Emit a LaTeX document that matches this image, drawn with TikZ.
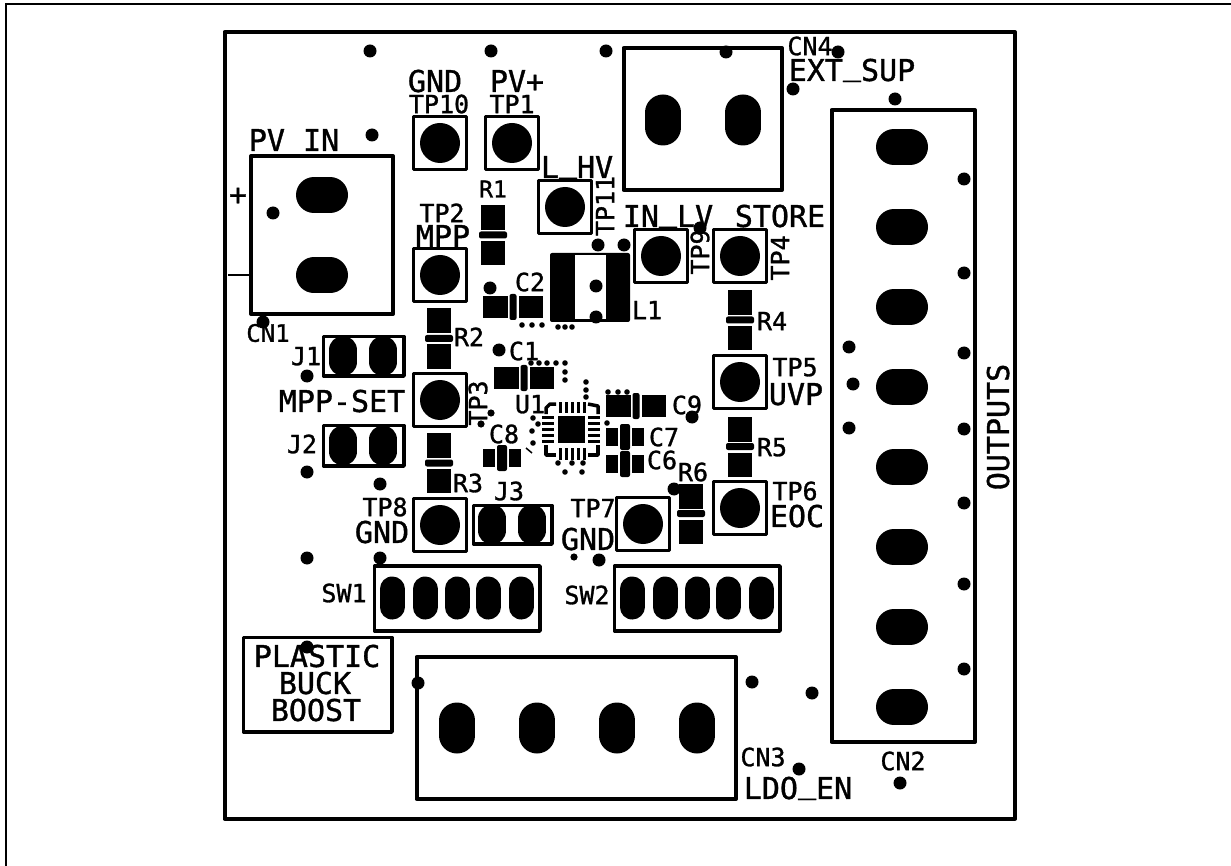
\documentclass[tikz,border=0pt]{standalone}
\usepackage{fontspec}
\newfontfamily\pcbfont[FakeBold=1.2]{DejaVu Sans Mono}
\newcounter{lblno}
\newcommand\us{\raisebox{.2em}{\_}}
\tikzset{
  board/.style={draw=black,line width=4pt,line join=round},
  part/.style={draw=black,line width=3.4pt,line join=round},
  slot/.style={line cap=round,draw=black},
  silk/.style={inner sep=0pt,outer sep=0pt,text=black,anchor=base}
}
% label: size, x, y, text ; rotated variant
\newcommand\lbl[4]{\stepcounter{lblno}\node[silk] (t\thelblno) at (#2,{#3+0.365*#1}) {\pcbfont\fontsize{#1}{#1}\selectfont #4};}
\newcommand\rlbl[4]{\stepcounter{lblno}\node[silk,rotate=90] (t\thelblno) at ({#2+0.365*#1},#3) {\pcbfont\fontsize{#1}{#1}\selectfont #4};}
\newcommand\tpad[2]{\draw[part] (#1-26.5,#2-26.5) rectangle (#1+26.5,#2+26.5); \fill (#1,#2) circle (20);}
\newcommand\hslot[2]{\draw[slot,line width=36pt] (#1-8,#2) -- (#1+8,#2);}
\newcommand\vslot[2]{\draw[slot,line width=36pt] (#1,#2-7.5) -- (#1,#2+7.5);}
\newcommand\swslot[2]{\draw[slot,line width=25pt] (#1,#2-9) -- (#1,#2+9);}
\newcommand\jslot[2]{\draw[slot,line width=28pt] (#1,#2-6) -- (#1,#2+6);}
\newcommand\resv[2]{\fill (#1-12,#2-30) rectangle (#1+12,#2-5); \fill (#1-12,#2+6) rectangle (#1+12,#2+30);
  \fill[rounded corners=2pt] (#1-14,#2-3.5) rectangle (#1+14,#2+3.5);}
\newcommand\capbig[2]{\fill (#1-30,#2-11) rectangle (#1-5,#2+11); \fill (#1+6,#2-11) rectangle (#1+30,#2+11);
  \fill[rounded corners=2pt] (#1-3.5,#2-13) rectangle (#1+3.5,#2+13);}
\newcommand\capsm[2]{\fill (#1-19,#2-9) rectangle (#1-7,#2+9); \fill (#1+7,#2-9) rectangle (#1+19,#2+9);
  \fill[rounded corners=2pt] (#1-5,#2-13) rectangle (#1+5,#2+13);}
\begin{document}
\begin{tikzpicture}[x=1pt,y=-1pt]
\useasboundingbox (0,0) rectangle (1231,866);
\fill[white] (0,0) rectangle (1231,866);
% page frame
\draw[line width=2pt] (6,866) -- (6,4.3) -- (1231,4.3);
% board outline
\draw[board] (224.5,32) rectangle (1015,818.5);
% connectors
\draw[board] (251,156) rectangle (393,314);
\hslot{322}{195} \hslot{322}{275.5}
\draw[board] (623.5,48) rectangle (782,190);
\vslot{663}{120} \vslot{743}{120}
\draw[board] (831.5,110) rectangle (975,742);
\foreach \yy in {147,227,307,387,467,547,627,707} {\hslot{902}{\yy}}
\draw[board] (416.5,657) rectangle (736,799);
\foreach \xx in {457,537,617,697} {\vslot{\xx}{728}}
% switches
\draw[part] (374.5,566) rectangle (540,631);
\foreach \xx in {392,425,457,488,521} {\swslot{\xx}{598}}
\draw[part] (614.5,566) rectangle (780,631);
\foreach \xx in {632,665,697,728,761} {\swslot{\xx}{598}}
% plastic box
\draw[part] (243.5,637.5) rectangle (392,732);
% jumpers
\draw[part] (323.5,336.5) rectangle (404,376);
\jslot{343}{356} \jslot{383}{356}
\draw[part] (323.5,425.5) rectangle (404,466);
\jslot{343}{445.5} \jslot{383}{445.5}
\draw[part] (473.5,505.5) rectangle (552,544);
\jslot{492}{524.5} \jslot{532}{524.5}
% test points
\tpad{440}{143} \tpad{512}{143} \tpad{565}{207} \tpad{440}{275}
\tpad{440}{400} \tpad{440}{525} \tpad{661}{256} \tpad{740}{256}
\tpad{740}{382} \tpad{740}{508} \tpad{643}{524}
% resistors
\resv{493}{235} \resv{439}{338.5} \resv{439}{463} \resv{740}{320} \resv{740}{446.5} \resv{691}{513.5}
% capacitors
\capbig{513}{307} \capbig{524}{378} \capbig{636}{406}
\capsm{625}{437} \capsm{625}{464} \capsm{502}{458}
% inductor
\fill[rounded corners=2pt] (550,253) rectangle (630,322);
\fill[white] (575,255) rectangle (606,319);
% U1
\fill (558,416) rectangle (585,443);
\foreach \pp in {0,1,2,3,4} {
  \fill ({560+\pp*6-1.5},402) rectangle ({560+\pp*6+1.5},413);
  \fill ({560+\pp*6-1.5},448) rectangle ({560+\pp*6+1.5},460);
  \fill (542,{417+\pp*6-1.5}) rectangle (554,{417+\pp*6+1.5});
  \fill (588,{417+\pp*6-1.5}) rectangle (600,{417+\pp*6+1.5});
}
\draw[line width=3.5pt,line join=round] (546,414) -- (546,408) -- (550,404) -- (556,404);
\draw[line width=3.5pt,line join=round] (598,414) -- (598,406) -- (588,404);
\draw[line width=3.5pt,line join=round] (546,445) -- (546,455) -- (556,455);
\draw[line width=3.5pt,line join=round] (598,445) -- (598,455) -- (588,455);
\draw[line width=1.5pt] (526,448) -- (532,453);
% vias
\foreach \xx/\yy in {370/51,491/51,606/51,372/135,726/52,838/52,793/89,895/99,964/179,964/273,964/353,
  849/347,853/384,849/428,964/429,964/503,964/584,964/669,812/693,900/783,799/769,752/682,
  273/213,263/322,307/376,307/472,380/484,307/558,380/558,307/647,418/683,599/560,
  598/245,624/245,596/286,596/317,490/288,499/350,674/489,692/417,700/228}
  {\fill (\xx,\yy) circle (6.5);}
\foreach \xx/\yy in {574/557,491/413,481/424} {\fill (\xx,\yy) circle (3.6);}
\foreach \xx/\yy in {522/325,532/325,542/325,558/327,565/327,572/327,
  531/363,539/363,547/363,556/363,565/363,565/372,565/380,
  586/382,586/390,586/397,608/392,618/392,627/392,607/423,
  533/418,538/424,532/431,533/443,
  558/463,572/463,583/463,565/472,582/472}
  {\fill (\xx,\yy) circle (2.8);}
% silk labels
\draw[line width=2pt] (228,275) -- (249,275);
\lbl{30}{238}{194}{+}
\lbl{30}{294}{140}{PV IN}
\lbl{30}{435}{81}{GND}
\lbl{30}{517}{81}{PV+}
\lbl{25}{439}{104}{TP10}
\lbl{25}{512}{104}{TP1}
\lbl{30}{577}{167}{L\us HV}
\rlbl{25}{605}{206}{TP11}
\lbl{23}{493}{189}{R1}
\lbl{25}{442}{213}{TP2}
\lbl{30}{443}{236}{MPP}
\lbl{25}{530}{282}{C2}
\lbl{30}{668}{216}{IN\us LV}
\lbl{30}{780}{216}{STORE}
\rlbl{25}{700}{252}{TP9}
\rlbl{25}{780}{258}{TP4}
\lbl{25}{647}{310}{L1}
\lbl{25}{772}{321}{R4}
\lbl{25}{810}{46}{CN4}
\lbl{30}{852}{70}{EXT\us SUP}
\lbl{25}{469}{337}{R2}
\lbl{25}{524}{351}{C1}
\rlbl{25}{478}{403}{TP3}
\lbl{25}{530}{404}{U1}
\lbl{25}{504}{434}{C8}
\lbl{25}{687}{405}{C9}
\lbl{25}{664}{437}{C7}
\lbl{25}{662}{460}{C6}
\lbl{25}{693}{472}{R6}
\lbl{25}{509}{491}{J3}
\lbl{25}{593}{508}{TP7}
\lbl{30}{588}{539}{GND}
\lbl{25}{772}{447}{R5}
\lbl{25}{795}{367}{TP5}
\lbl{30}{796}{394}{UVP}
\lbl{25}{795}{491}{TP6}
\lbl{30}{797}{516}{EOC}
\rlbl{30}{998}{427}{OUTPUTS}
\lbl{25}{903}{761}{CN2}
\lbl{30}{798}{788}{LDO\us EN}
\lbl{25}{763}{757}{CN3}
\lbl{25}{306}{356}{J1}
\lbl{25}{302}{444}{J2}
\lbl{24}{268}{333}{CN1}
\lbl{30}{342}{401}{MPP-SET}
\lbl{25}{468}{483}{R3}
\lbl{25}{385}{507}{TP8}
\lbl{30}{382}{532}{GND}
\lbl{25}{344}{593}{SW1}
\lbl{25}{587}{595}{SW2}
\lbl{30}{317}{656}{PLASTIC}
\lbl{30}{315}{683}{BUCK}
\lbl{30}{316}{710}{BOOST}
\end{tikzpicture}
\end{document}
